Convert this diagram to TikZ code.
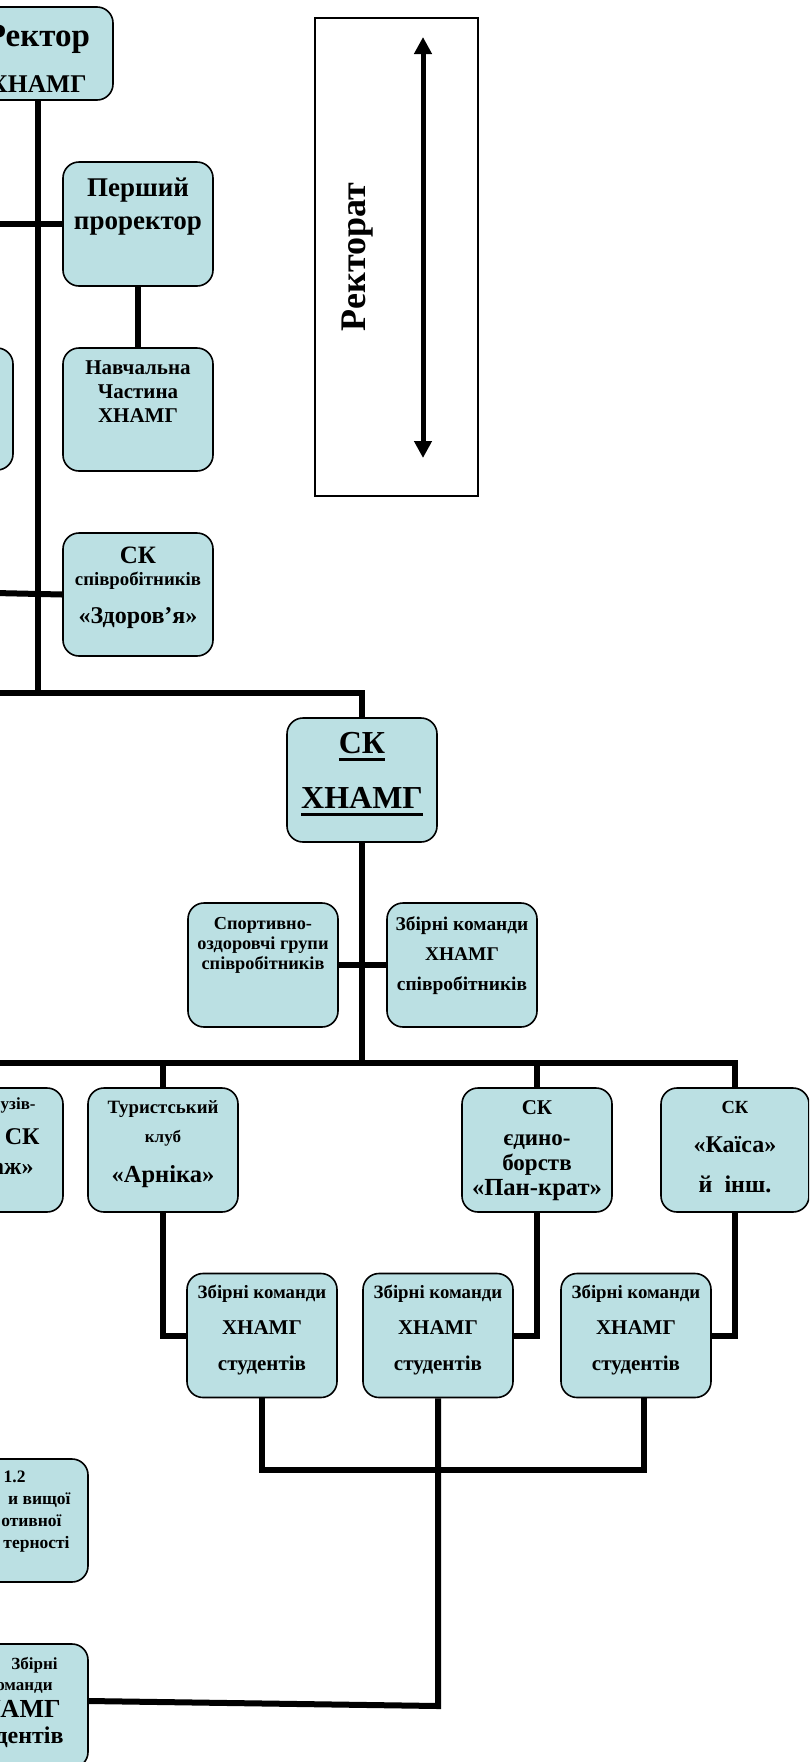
\documentclass[tikz,border=0pt]{standalone}
\usepackage{fontspec}
\setmainfont{Liberation Serif}
\usetikzlibrary{arrows.meta}
\definecolor{boxfill}{RGB}{187,224,227}
\newcommand{\fsz}[2]{\fontsize{#1}{#2}\selectfont}
\newsavebox{\undlbox}
\newcommand{\undl}[1]{\sbox{\undlbox}{#1}\rlap{\rule[-7.5pt]{\wd\undlbox}{3pt}}\usebox{\undlbox}}

\begin{document}
\begin{tikzpicture}[x=1pt,y=-1pt,
		unit/.style={draw=black,line width=1.6pt,rounded corners=16pt,fill=boxfill,minimum width=150pt,minimum height=124pt,inner sep=0pt},
		txt/.style={anchor=north,align=center,inner sep=0pt},
		link/.style={draw=black,line width=6pt}]
		\useasboundingbox (0,0) rectangle (809,1762);
		\clip (0,0) rectangle (809,1762);
		% rectorate
		\node[unit,minimum height=93pt,label={[txt,yshift=-18pt,font=\bfseries\fsz{25.5}{46}]north:{{\fsz{33}{46}Ректор}\\ХНАМГ}}] (rektor) at (38,53.5) {};
		\node[unit,label={[txt,yshift=-16.6pt,font=\bfseries\fsz{27}{33}]north:{Перший\\проректор}}] (pp) at (138,224) {};
		\node[unit,minimum height=123pt,label={[txt,yshift=-13pt,font=\bfseries\fsz{21}{24}]north:{Навчальна\\Частина\\ХНАМГ}}] (nav) at (138,409.5) {};
		\node[unit,minimum height=122pt] (left1) at (-62,409) {};
		\node[unit,minimum height=123pt,label={[txt,yshift=-15pt,font=\bfseries\fsz{18.8}{22}]north:{{\fsz{25}{22}СК}\\співробітників\\[16pt]{\fsz{24}{22}«Здоров’я»}}}] (zdr) at (138,594.5) {};
		\node[draw=black,line width=1.5pt,minimum width=163pt,minimum height=478pt,inner sep=0pt] (rtr) at (396.5,257) {};
		\node[rotate=90,inner sep=0pt,font=\bfseries\fsz{36}{40}] (rtrtxt) at (358,257) {Ректорат};
		\coordinate (atop) at (423,37);
		\coordinate (abot) at (423,458);
		\draw[line width=5pt,{Triangle[width=17pt,length=17pt]}-{Triangle[width=17pt,length=17pt]}] (atop) -- (abot);
		% sports club
		\node[unit,label={[txt,yshift=-15.3pt,font=\bfseries\fsz{32}{55}]north:{\undl{СК}\\\undl{ХНАМГ}}}] (skh) at (362,780) {};
		\node[unit,label={[txt,yshift=-15.2pt,font=\bfseries\fsz{18.3}{20}]north:{Спортивно-\\оздоровчі групи\\співробітників}}] (sog) at (263,965) {};
		\node[unit,label={[txt,yshift=-14.6pt,font=\bfseries\fsz{19.4}{30}]north:{Збірні команди\\ХНАМГ\\співробітників}}] (zks) at (462,965) {};
		% clubs
		\node[unit,label={[txt,anchor=north east,align=right,xshift=-24pt,yshift=-10.3pt,font=\bfseries\fsz{24}{30}]north east:{{\fsz{17}{30}узів-}\kern4pt\\[5pt]СК\\аж»\kern6pt}}] (left2) at (-12,1150) {};
		\node[unit,label={[txt,yshift=-13.4pt,font=\bfseries\fsz{18.8}{29}]north:{Туристський\\{\fsz{17}{29}клуб}\\[11pt]{\fsz{24.5}{29}«Арніка»}}}] (tur) at (163,1150) {};
		\node[unit,label={[txt,yshift=-12.8pt,font=\bfseries\fsz{23}{25}]north:{{\fsz{21}{25}СК}\\[6pt]єдино-\\борств\\{\fsz{24.6}{25}«Пан-крат»}}}] (edn) at (537,1150) {};
		\node[unit,minimum width=148pt,label={[txt,yshift=-13.8pt,font=\bfseries\fsz{24}{40}]north:{{\fsz{18.5}{40}СК}\\[-1pt]«Каїса»\\й\ \ інш.}}] (kai) at (735,1150) {};
		% student teams
		\node[unit,label={[txt,yshift=-12.6pt,font=\bfseries\fsz{21}{36}]north:{{\fsz{18.8}{36}Збірні команди}\\ХНАМГ\\студентів}}] (zs1) at (262,1335.5) {};
		\node[unit,label={[txt,yshift=-12.6pt,font=\bfseries\fsz{21}{36}]north:{{\fsz{18.8}{36}Збірні команди}\\ХНАМГ\\студентів}}] (zs2) at (438,1335.5) {};
		\node[unit,label={[txt,yshift=-12.6pt,font=\bfseries\fsz{21}{36}]north:{{\fsz{18.8}{36}Збірні команди}\\ХНАМГ\\студентів}}] (zs3) at (636,1335.5) {};
		\node[unit,minimum height=123pt,label={[txt,anchor=north east,align=right,xshift=-18pt,yshift=-12.2pt,font=\bfseries\fsz{17.5}{22}]north east:{1.2\kern45pt\\и вищої\\отивної\kern9pt\\терності\kern1pt}}] (left3) at (13,1520.5) {};
		\node[unit,label={[txt,anchor=north east,align=right,xshift=-25pt,yshift=-14.3pt,font=\bfseries\fsz{17}{21}]north east:{Збірні\kern6pt\\команди\kern11pt\\[6pt]{\fsz{26}{21}ХНАМГ}\kern3pt\\[5pt]{\fsz{24}{21}студентів}}}] (left4) at (13,1706) {};
		% connectors
		\coordinate (tr) at (38,693);
		\coordinate (e1) at (-5,224);
		\coordinate (e2) at (-5,593);
		\coordinate (e3) at (-5,693);
		\coordinate (b0) at (-5,1063);
		\coordinate (jl) at (262,1470);
		\coordinate (jr) at (644,1470);
		\coordinate (jb) at (438,1706);
		\draw[link] (rektor.south) -- (tr);
		\draw[link] (e1) -- (pp.west);
		\draw[link] (pp.south) -- (nav.north);
		\draw[link] (e2) -- (zdr.west);
		\draw[link] (e3) -| (skh.north);
		\draw[link] (skh.south) -- (skh.south |- b0);
		\draw[link] (sog.east) -- (zks.west);
		\draw[link] (b0) -| (kai.north);
		\draw[link] (tur.north |- b0) -- (tur.north);
		\draw[link] (edn.north |- b0) -- (edn.north);
		\draw[link] (tur.south) |- (zs1.west);
		\draw[link] (edn.south) |- (zs2.east);
		\draw[link] (kai.south) |- (zs3.east);
		\draw[link] (zs1.south) -- (jl) -- (jr) -- ([xshift=8pt]zs3.south);
		\draw[link] (zs2.south) -- (jb) -- ([yshift=5pt]left4.east);
	\end{tikzpicture}
\end{document}
